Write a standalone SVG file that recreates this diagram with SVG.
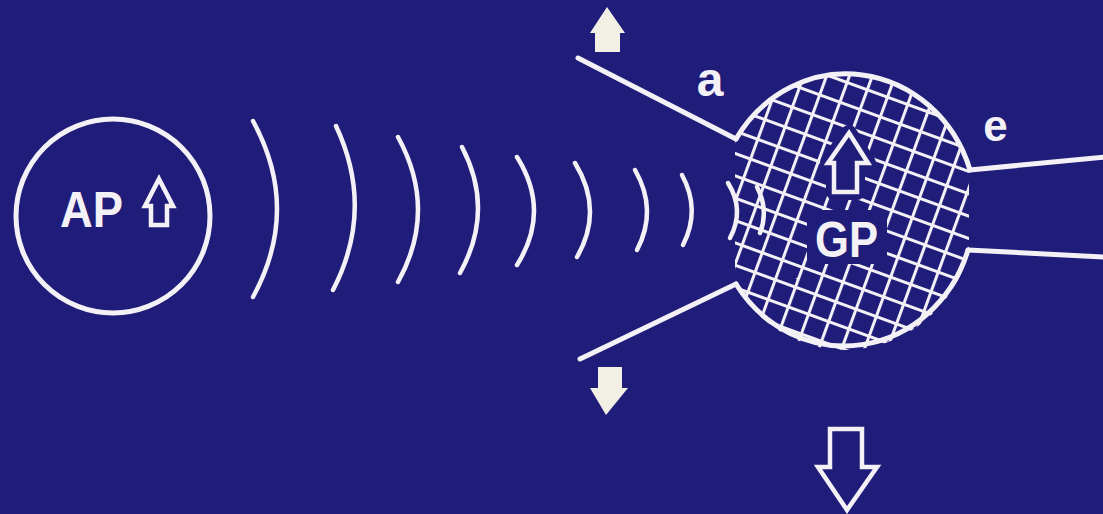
<svg xmlns="http://www.w3.org/2000/svg" width="1103" height="514" viewBox="0 0 1103 514">
<style>
.ln{fill:none;stroke:#f4f1f6;stroke-width:5;stroke-linecap:round;stroke-linejoin:round}
.wv{fill:none;stroke:#f4f1f6;stroke-width:4.5;stroke-linecap:round}
.lbl{font-family:"Liberation Sans",Arial,sans-serif;font-weight:bold;fill:#f4f1f6}
.solid{fill:#f2f0e4}
.hollow{fill:#201c7a;stroke:#f4f1f6;stroke-width:4.5;stroke-linejoin:miter}
</style>
<defs>
<pattern id="grid" width="21.5" height="21" patternUnits="userSpaceOnUse" patternTransform="rotate(20 845 211) translate(6 4)">
<path d="M0 1.5H21.5M1.5 0V21" stroke="#f4f1f6" stroke-width="3" fill="none"/>
</pattern>
<clipPath id="clipEll"><ellipse cx="845" cy="211.5" rx="130" ry="138.5"/></clipPath>
<clipPath id="clipRect"><rect x="735" y="60" width="234" height="300"/></clipPath>
</defs>
<rect width="1103" height="514" fill="#201c7a"/>

<g id="AP">
<circle cx="113" cy="216" r="97" class="ln"/>
<text x="60" y="227" class="lbl" font-size="50" textLength="63" lengthAdjust="spacingAndGlyphs">AP</text>
<polygon points="159,179 173,206 167,206 167,225 151,225 151,206 145,206" class="hollow" stroke-width="4"/>
</g>

<g id="waves">
<path class="wv" d="M253 121 Q301 209 253 297"/>
<path class="wv" d="M336 126 Q375 209 333 290"/>
<path class="wv" d="M398 137 Q438 210 398 282"/>
<path class="wv" d="M462 147 Q495 210 460 273"/>
<path class="wv" d="M517 157 Q551 211 517 265"/>
<path class="wv" d="M575 163 Q604 210 577 257"/>
<path class="wv" d="M635 170 Q658 210 637 250"/>
<path class="wv" d="M682 175 Q701 210 683 245"/>
<path class="wv" d="M728 183 Q745 210 730 238" stroke-width="4"/>
<path class="wv" d="M757 187 Q769 210 760 233" stroke-width="3.5"/>
</g>

<g id="GP">
<g clip-path="url(#clipRect)">
<rect x="700" y="60" width="300" height="300" fill="url(#grid)" clip-path="url(#clipEll)"/>
</g>
<rect x="807" y="210" width="80" height="54" rx="6" fill="#201c7a"/>
<polygon points="849,133 868,163 857,163 857,192 834,192 834,163 828,163" fill="#201c7a" stroke="#201c7a" stroke-width="16" stroke-linejoin="round"/>
<polygon points="849,133 868,163 857,163 857,192 834,192 834,163 828,163" class="hollow" stroke-width="5"/>
<text x="815" y="257" class="lbl" font-size="50" textLength="63" lengthAdjust="spacingAndGlyphs">GP</text>
<path class="ln" d="M736 139 A130 138.5 0 0 1 970 170"/>
<path class="ln" d="M968 250 A130 138.5 0 0 1 736 284"/>
</g>

<g id="connectors">
<line class="ln" x1="578" y1="58" x2="736" y2="139"/>
<line class="ln" x1="580" y1="359" x2="736" y2="284"/>
<line class="ln" x1="970" y1="170" x2="1105" y2="157"/>
<line class="ln" x1="968" y1="250" x2="1105" y2="257"/>
</g>

<g id="label-a"><text x="710" y="96" class="lbl" font-size="48" text-anchor="middle">a</text></g>
<g id="label-e"><text x="995.5" y="141" class="lbl" font-size="44" text-anchor="middle">e</text></g>

<g id="arrow-up"><polygon class="solid" points="607,7 625,33 620,33 620,52 595,52 595,33 590,33"/></g>
<g id="arrow-down"><polygon class="solid" points="598,367 622,367 622,388 628,388 606,415 590,388 598,388"/></g>
<g id="arrow-out"><polygon class="hollow" stroke-width="5" points="830,429 862,429 862,467 877,467 847,510 818,467 830,467"/></g>
</svg>
